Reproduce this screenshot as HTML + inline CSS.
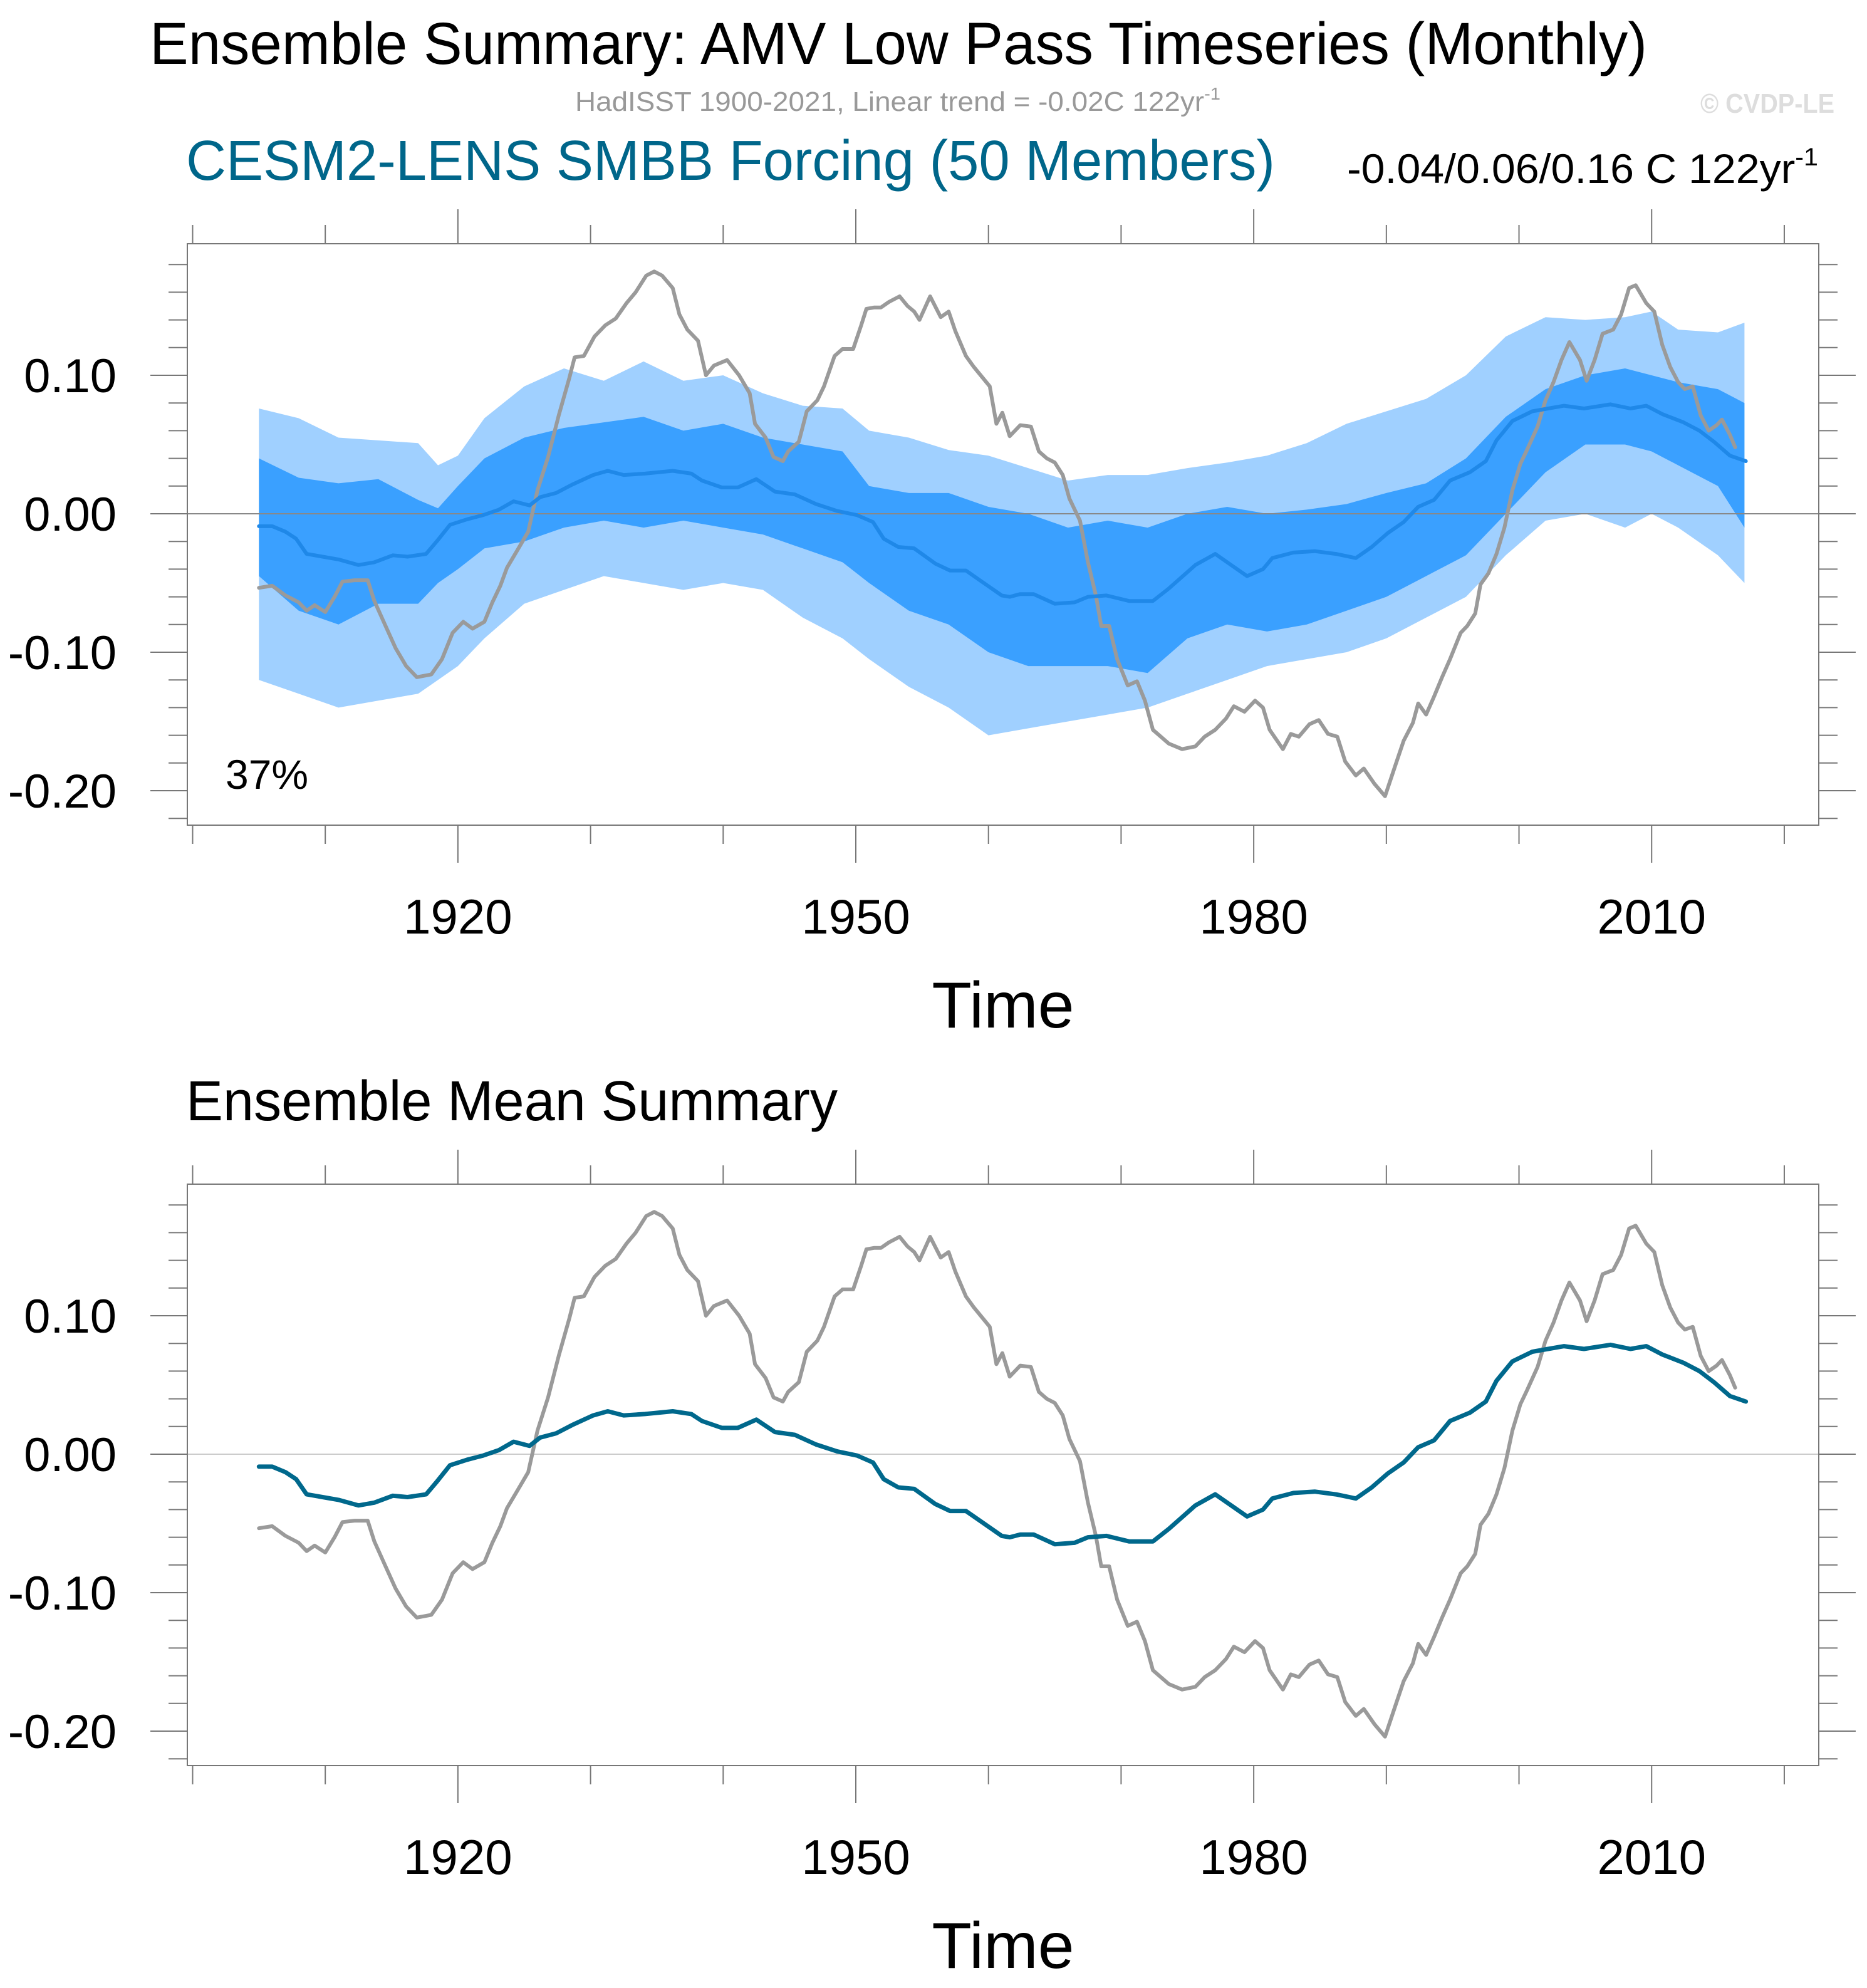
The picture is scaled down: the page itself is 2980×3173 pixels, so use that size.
<!DOCTYPE html>
<html><head><meta charset="utf-8"><style>
html,body{margin:0;padding:0;background:#fff;}
svg{display:block;font-family:"Liberation Sans",Arial,sans-serif;}
</style></head><body>
<svg id="chart" xmlns="http://www.w3.org/2000/svg" width="2980" height="3173" viewBox="0 0 2980 3173">
<rect width="2980" height="3173" fill="#fff"/>
<text x="239" y="102" font-size="95" textLength="2390" lengthAdjust="spacingAndGlyphs">Ensemble Summary: AMV Low Pass Timeseries (Monthly)</text>
<text x="918" y="177" font-size="44" fill="#999" textLength="1030" lengthAdjust="spacingAndGlyphs">HadISST 1900-2021, Linear trend = -0.02C 122yr<tspan dy="-18" font-size="28">-1</tspan></text>
<text x="2714" y="180" font-size="44" font-weight="bold" fill="#ddd" textLength="214" lengthAdjust="spacingAndGlyphs">© CVDP-LE</text>
<text x="297" y="287" font-size="90" fill="#00668a" textLength="1738" lengthAdjust="spacingAndGlyphs">CESM2-LENS SMBB Forcing (50 Members)</text>
<text x="2150" y="292" font-size="66" textLength="752" lengthAdjust="spacingAndGlyphs">-0.04/0.06/0.16 C 122yr<tspan dy="-28" font-size="40">-1</tspan></text>
<text x="360" y="1259" font-size="66">37%</text>
<text x="297" y="1788" font-size="90" textLength="1040" lengthAdjust="spacingAndGlyphs">Ensemble Mean Summary</text>
<g id="p1"></g><g id="p2"></g>
</svg>
<script>
// ---- data ----
const obsYears=[1905,1906,1907,1908,1908.6,1909.2,1910,1910.7,1911.3,1912.2,1913.2,1913.7,1914.5,1915.3,1916.1,1916.9,1918,1918.8,1919.6,1920.4,1921.1,1922,1922.6,1923.2,1923.7,1924.5,1925.3,1926,1926.8,1927.6,1928.4,1928.8,1929.5,1930.3,1931.1,1931.9,1932.7,1933.4,1934.2,1934.8,1935.4,1936.2,1936.7,1937.3,1938.1,1938.7,1939.3,1940.3,1941.2,1942,1942.4,1943.2,1943.8,1944.5,1944.9,1945.7,1946.3,1947.1,1947.6,1948.4,1949,1949.8,1950.4,1950.8,1951.4,1951.9,1952.5,1953.3,1953.9,1954.4,1954.8,1955.6,1956.4,1957,1957.5,1958.3,1958.9,1959.5,1960.1,1960.6,1961.05,1961.6,1962.4,1963.2,1963.8,1964.4,1965,1965.6,1966.1,1966.9,1967.5,1968.1,1968.5,1969.1,1969.7,1970.5,1971.2,1971.8,1972.4,1973.6,1974.6,1975.6,1976.3,1977.1,1977.9,1978.5,1979.3,1980.1,1980.7,1981.2,1982.2,1982.8,1983.4,1984.2,1984.9,1985.6,1986.3,1986.9,1987.7,1988.3,1989.1,1989.9,1990.7,1991.3,1992,1992.4,1993,1993.6,1994.2,1994.8,1995.6,1996.1,1996.7,1997.1,1997.7,1998.3,1998.9,1999.5,2000.1,2000.6,2001.4,2002,2002.6,2003.2,2003.8,2004.6,2005.1,2005.7,2006.3,2007.1,2007.7,2008.3,2008.8,2009.6,2010.2,2010.8,2011.4,2012,2012.5,2013.1,2013.7,2014.3,2014.9,2015.3,2015.9,2016.3];
const obsVals=[-0.0535,-0.052,-0.059,-0.064,-0.070,-0.066,-0.071,-0.060,-0.049,-0.048,-0.048,-0.063,-0.080,-0.097,-0.110,-0.118,-0.116,-0.105,-0.086,-0.078,-0.083,-0.078,-0.064,-0.052,-0.039,-0.026,-0.013,0.017,0.041,0.071,0.098,0.113,0.114,0.128,0.136,0.141,0.152,0.160,0.172,0.175,0.172,0.163,0.144,0.133,0.125,0.100,0.107,0.111,0.100,0.087,0.065,0.055,0.041,0.038,0.045,0.052,0.074,0.082,0.092,0.114,0.119,0.119,0.136,0.148,0.149,0.149,0.153,0.157,0.150,0.146,0.140,0.157,0.142,0.146,0.132,0.114,0.106,0.099,0.092,0.065,0.073,0.056,0.064,0.063,0.045,0.040,0.037,0.028,0.011,-0.005,-0.035,-0.059,-0.081,-0.081,-0.105,-0.124,-0.121,-0.135,-0.156,-0.166,-0.170,-0.168,-0.161,-0.156,-0.148,-0.139,-0.143,-0.135,-0.140,-0.156,-0.170,-0.159,-0.161,-0.152,-0.149,-0.159,-0.161,-0.179,-0.189,-0.184,-0.195,-0.204,-0.181,-0.164,-0.151,-0.137,-0.145,-0.132,-0.118,-0.105,-0.086,-0.081,-0.072,-0.051,-0.043,-0.029,-0.010,0.017,0.036,0.046,0.063,0.082,0.095,0.111,0.124,0.111,0.096,0.111,0.130,0.133,0.144,0.163,0.165,0.152,0.146,0.122,0.106,0.095,0.090,0.092,0.071,0.060,0.064,0.068,0.057,0.048];
const meanYears=[1905,1906,1907,1907.8,1908.6,1909.8,1911,1912.5,1913.7,1915.1,1916.2,1917.6,1918.4,1919.4,1920.7,1921.9,1923.1,1924.2,1925.4,1926.2,1927.4,1928.6,1930.2,1931.3,1932.5,1934.1,1936.2,1937.6,1938.4,1939.9,1941.1,1942.5,1943.9,1945.4,1947,1948.6,1950.1,1951.3,1952.1,1953.2,1954.4,1956,1957.1,1958.3,1959.5,1961,1961.6,1962.4,1963.4,1965,1966.5,1967.5,1968.9,1970.6,1972.4,1973.6,1975.6,1977.1,1978.3,1979.5,1980.7,1981.4,1983,1984.6,1986.2,1987.7,1988.9,1990.1,1991.3,1992.4,1993.6,1994.8,1996.3,1997.5,1998.3,1999.5,2001,2002.2,2003.4,2004.9,2006.9,2008.4,2009.6,2010.8,2012.4,2013.6,2014.7,2015.9,2017.1];
const meanVals=[-0.009,-0.009,-0.013,-0.018,-0.029,-0.031,-0.033,-0.037,-0.035,-0.030,-0.031,-0.029,-0.020,-0.008,-0.004,-0.001,0.003,0.009,0.006,0.012,0.015,0.021,0.028,0.031,0.028,0.029,0.031,0.029,0.024,0.019,0.019,0.025,0.016,0.014,0.007,0.002,-0.001,-0.006,-0.018,-0.024,-0.025,-0.036,-0.041,-0.041,-0.049,-0.059,-0.060,-0.058,-0.058,-0.065,-0.064,-0.060,-0.059,-0.063,-0.063,-0.054,-0.037,-0.029,-0.037,-0.045,-0.040,-0.032,-0.028,-0.027,-0.029,-0.032,-0.024,-0.014,-0.006,0.005,0.010,0.024,0.030,0.038,0.053,0.067,0.074,0.076,0.078,0.076,0.079,0.076,0.078,0.072,0.066,0.060,0.052,0.042,0.038];
const bandYears=[1905,1908,1911,1914,1917,1918.5,1920,1922,1925,1928,1931,1934,1937,1940,1943,1946,1949,1951,1954,1957,1960,1963,1966,1969,1972,1975,1978,1981,1984,1987,1990,1993,1996,1999,2002,2005,2008,2010,2012,2015,2017];
const lightUpper=[0.076,0.069,0.055,0.053,0.051,0.035,0.042,0.069,0.092,0.105,0.096,0.110,0.096,0.100,0.087,0.078,0.076,0.060,0.055,0.046,0.042,0.033,0.024,0.028,0.028,0.033,0.037,0.042,0.051,0.065,0.074,0.083,0.100,0.128,0.142,0.140,0.142,0.146,0.133,0.131,0.138];
const darkUpper=[0.040,0.026,0.022,0.025,0.010,0.004,0.020,0.040,0.055,0.062,0.066,0.070,0.060,0.065,0.055,0.050,0.045,0.020,0.015,0.015,0.005,0.000,-0.010,-0.005,-0.010,0.000,0.005,0.000,0.003,0.007,0.015,0.022,0.040,0.070,0.090,0.100,0.105,0.100,0.095,0.090,0.080];
const darkLower=[-0.045,-0.070,-0.080,-0.065,-0.065,-0.050,-0.040,-0.025,-0.020,-0.010,-0.005,-0.010,-0.005,-0.010,-0.015,-0.025,-0.035,-0.050,-0.070,-0.080,-0.100,-0.110,-0.110,-0.110,-0.115,-0.090,-0.080,-0.085,-0.080,-0.070,-0.060,-0.045,-0.030,0.000,0.030,0.050,0.050,0.045,0.035,0.020,-0.010];
const lightLower=[-0.120,-0.130,-0.140,-0.135,-0.130,-0.120,-0.110,-0.090,-0.065,-0.055,-0.045,-0.050,-0.055,-0.050,-0.055,-0.075,-0.090,-0.105,-0.125,-0.140,-0.160,-0.155,-0.150,-0.145,-0.140,-0.130,-0.120,-0.110,-0.105,-0.100,-0.090,-0.075,-0.060,-0.030,-0.005,0.000,-0.010,0.000,-0.010,-0.030,-0.050];
const yTickVals=[0.10,0.00,-0.10,-0.20];
const yTickLabels=["0.10","0.00","-0.10","-0.20"];
const xTickVals=[1920,1950,1980,2010];
const xTickLabels=["1920","1950","1980","2010"];

// ---- layout ----
const NS="http://www.w3.org/2000/svg";
const L=299,R=2903,XMIN=1899.6,XMAX=2022.6,PPY=2210;
function mk(tag,attrs,parent){const e=document.createElementNS(NS,tag);for(const k in attrs)e.setAttribute(k,attrs[k]);parent.appendChild(e);return e;}
function xs(yr){return L+(yr-XMIN)/(XMAX-XMIN)*(R-L);}
function path(xa,ya,ysc){return xa.map((x,i)=>(i?'L':'M')+xs(x).toFixed(1)+','+ysc(ya[i]).toFixed(1)).join('');}
function band(up,lo,ysc){let d=path(bandYears,up,ysc);for(let i=bandYears.length-1;i>=0;i--)d+='L'+xs(bandYears[i]).toFixed(1)+','+ysc(lo[i]).toFixed(1);return d+'Z';}

function panel(g,top,withBands){
  const zero=top+431, bot=top+928;
  const ys=v=>zero-v*PPY;
  if(withBands){
    const b1=mk('path',{d:band(lightUpper,lightLower,ys),fill:'#a0d0ff'},g);
    
    
    const b2=mk('path',{d:band(darkUpper,darkLower,ys),fill:'#3aa0ff'},g);
    
    
  }
  const zl=mk('line',{x1:240,x2:R,y1:zero,y2:zero,stroke:withBands?'#888':'#ccc','stroke-width':2},g);
  
  
  const ob=mk('path',{d:path(obsYears,obsVals,ys),fill:'none',stroke:'#9a9a9a','stroke-width':6,'stroke-linejoin':'round','stroke-linecap':'round'},g);
  
  
  const ml=mk('path',{d:path(meanYears,meanVals,ys),fill:'none',stroke:withBands?'#1f88e8':'#00688c','stroke-width':withBands?6:7,'stroke-linejoin':'round','stroke-linecap':'round'},g);
  
  
  const fr=mk('rect',{x:L,y:top,width:R-L,height:928,fill:'none',stroke:'#777','stroke-width':2},g);
  
  
  for(let k=-11;k<=9;k++){
    const v=k*0.02, y=ys(v);
    if(y<top+2||y>bot-2)continue;
    const major=Math.abs(k%5)===0, len=major?59:30;
    mk('line',{x1:L-len,x2:L,y1:y,y2:y,stroke:'#777','stroke-width':2},g);
    mk('line',{x1:R,x2:R+len,y1:y,y2:y,stroke:'#777','stroke-width':2},g);
  }
  yTickVals.forEach((v,i)=>{
    const t=mk('text',{x:186,y:ys(v)+27,'font-size':76,'text-anchor':'end'},g);
    t.textContent=yTickLabels[i];
    
    
  });
  for(let yr=1900;yr<=2020;yr+=10){
    const x=xs(yr), major=xTickVals.includes(yr);
    mk('line',{x1:x,x2:x,y1:bot,y2:bot+(major?60:30),stroke:'#777','stroke-width':2},g);
    mk('line',{x1:x,x2:x,y1:top,y2:top-(major?55:30),stroke:'#777','stroke-width':2},g);
  }
  xTickVals.forEach((v,i)=>{
    const t=mk('text',{x:xs(v),y:bot+173,'font-size':78,'text-anchor':'middle'},g);
    t.textContent=xTickLabels[i];
    
    
  });
  const xt=mk('text',{x:1601,y:bot+323,'font-size':104,'text-anchor':'middle'},g);
  xt.textContent='Time';
  
  
}
panel(document.getElementById('p1'),389,true);
panel(document.getElementById('p2'),1890,false);
</script>
</body></html>
